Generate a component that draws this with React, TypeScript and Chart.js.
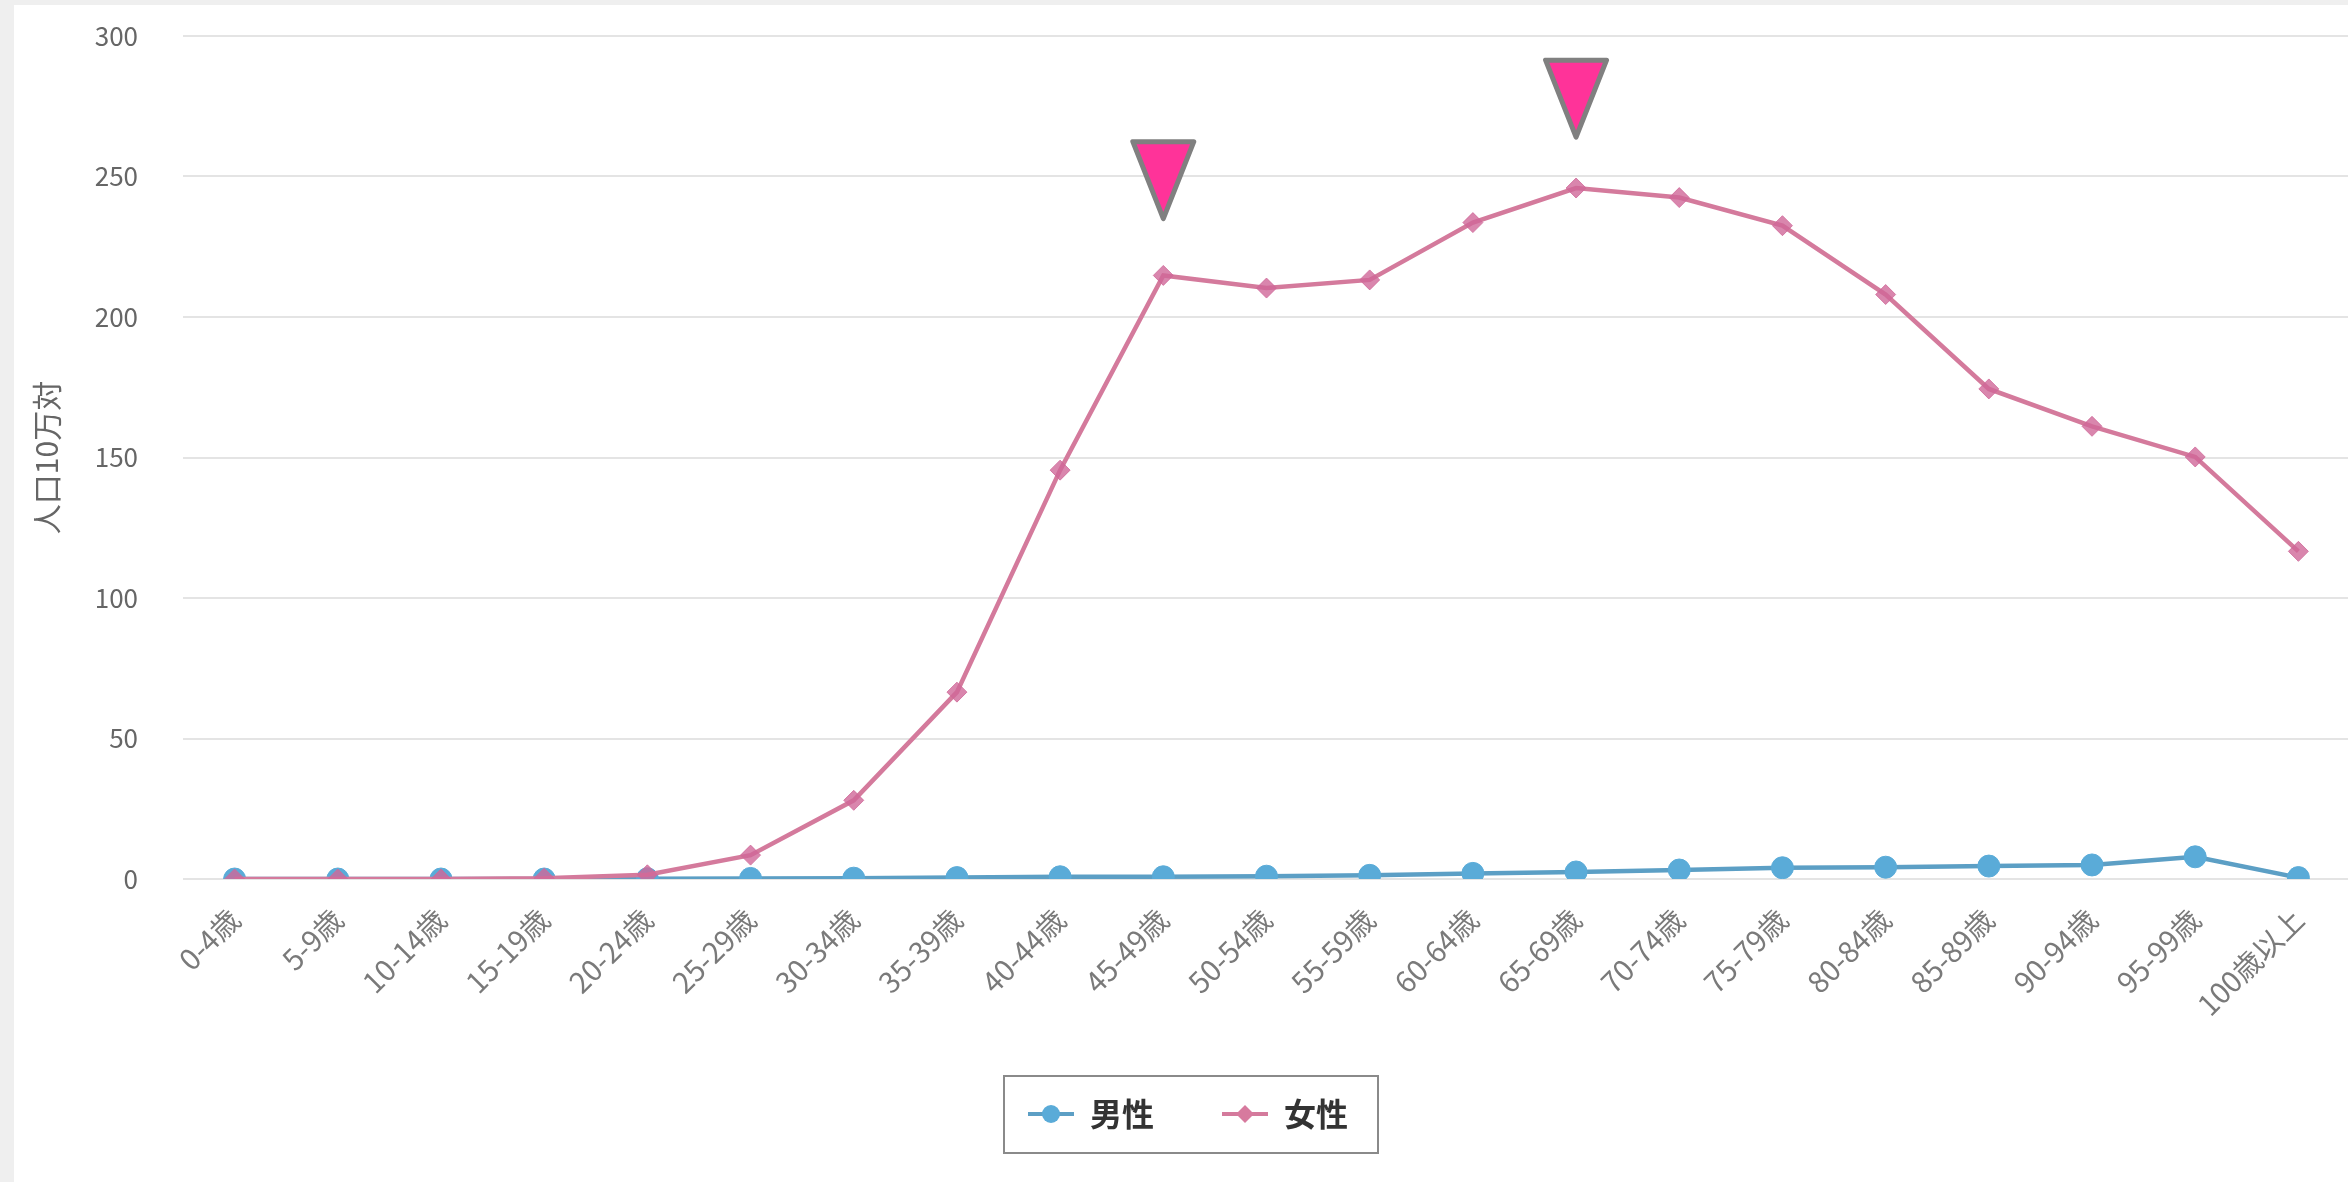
import React, { useEffect, useRef } from 'react';
import Chart from 'chart.js/auto';

// ---- data ----
const categories = ['0-4歳', '5-9歳', '10-14歳', '15-19歳', '20-24歳', '25-29歳', '30-34歳', '35-39歳', '40-44歳', '45-49歳', '50-54歳', '55-59歳', '60-64歳', '65-69歳', '70-74歳', '75-79歳', '80-84歳', '85-89歳', '90-94歳', '95-99歳', '100歳以上'];
const maleValues = [0, 0, 0, 0, 0.1, 0.2, 0.3, 0.5, 0.8, 0.8, 1.0, 1.3, 2.0, 2.5, 3.2, 4.0, 4.2, 4.6, 5.0, 7.9, 0.5];
const femaleValues = [0, 0, 0, 0.3, 1.5, 8.5, 28, 66.5, 145.5, 214.8, 210.3, 213.2, 233.6, 245.9, 242.5, 232.5, 208, 174.4, 161.1, 150.2, 116.6];
const seriesNames = ['男性', '女性'];
const yAxisTitle = '人口10万対';
const yMin = 0;
const yMax = 300;
const yStep = 50;
const markerCategories = ['45-49歳', '65-69歳'];
const markerTipValues = [235, 264];

const FONT = '"Noto Sans CJK JP", "Noto Sans", sans-serif';
const MALE_LINE = '#5c9fc5';
const MALE_POINT = '#5aabd8';
const FEMALE_LINE = '#d47a9c';
const FEMALE_POINT = 'rgba(208,104,152,0.8)';

function makeIcon(lineColor: string, pointColor: string, shape: string) {
  const c = document.createElement('canvas');
  c.width = 46;
  c.height = 22;
  const g = c.getContext('2d')!;
  g.strokeStyle = lineColor;
  g.lineWidth = 4;
  g.beginPath();
  g.moveTo(0, 11);
  g.lineTo(46, 11);
  g.stroke();
  g.fillStyle = pointColor;
  g.beginPath();
  if (shape === 'circle') {
    g.arc(23, 11, 9, 0, Math.PI * 2);
  } else {
    g.moveTo(23, 2);
    g.lineTo(32, 11);
    g.lineTo(23, 20);
    g.lineTo(14, 11);
    g.closePath();
  }
  g.fill();
  return c;
}

const peakMarkers = {
  id: 'peakMarkers',
  afterDatasetsDraw(chart: any) {
    const { ctx } = chart;
    const xs = chart.scales.x;
    const ys = chart.scales.y;
    ctx.save();
    markerCategories.forEach((cat, i) => {
      const px = xs.getPixelForValue(categories.indexOf(cat));
      const tip = ys.getPixelForValue(markerTipValues[i]);
      const h = 77;
      const hw = 30.5;
      ctx.beginPath();
      ctx.moveTo(px - hw, tip - h);
      ctx.lineTo(px + hw, tip - h);
      ctx.lineTo(px, tip);
      ctx.closePath();
      ctx.fillStyle = '#ff3399';
      ctx.fill();
      ctx.lineWidth = 5;
      ctx.lineJoin = 'round';
      ctx.strokeStyle = '#808080';
      ctx.stroke();
    });
    ctx.restore();
  },
};

const legendFrame = {
  id: 'legendFrame',
  afterDraw(chart: any) {
    const boxes = chart.legend && chart.legend.legendHitBoxes;
    if (!boxes || !boxes.length) return;
    const { ctx } = chart;
    const left = Math.min(...boxes.map((b: any) => b.left)) - 24;
    const right = Math.max(...boxes.map((b: any) => b.left + b.width)) + 30;
    const top = boxes[0].top - 22;
    const bottom = boxes[0].top + boxes[0].height + 23;
    ctx.save();
    ctx.strokeStyle = '#8a8a8a';
    ctx.lineWidth = 2;
    ctx.strokeRect(left, top, right - left, bottom - top);
    ctx.restore();
  },
};

export default function App() {
  const ref = useRef<HTMLCanvasElement | null>(null);

  useEffect(() => {
    if (!ref.current) return;
    const icons = [makeIcon(MALE_LINE, MALE_POINT, 'circle'), makeIcon(FEMALE_LINE, '#d77a9e', 'diamond')];
    const chart = new Chart(ref.current, {
      type: 'line',
      data: {
        labels: categories,
        datasets: [
          {
            label: seriesNames[0],
            data: maleValues,
            borderColor: MALE_LINE,
            backgroundColor: MALE_POINT,
            pointBackgroundColor: MALE_POINT,
            pointBorderColor: MALE_POINT,
            pointBorderWidth: 1,
            pointStyle: 'circle',
            pointRadius: 11,
            borderWidth: 4.5,
            tension: 0,
            order: 1,
          },
          {
            label: seriesNames[1],
            data: femaleValues,
            borderColor: FEMALE_LINE,
            backgroundColor: FEMALE_POINT,
            pointBackgroundColor: FEMALE_POINT,
            pointBorderColor: FEMALE_POINT,
            pointBorderWidth: 1,
            pointStyle: 'rectRot',
            pointRadius: 10,
            borderWidth: 4.5,
            tension: 0,
            order: 0,
          },
        ],
      },
      options: {
        responsive: false,
        animation: false,
        layout: { padding: { top: 31, left: 0, right: 0, bottom: 42 } },
        plugins: {
          tooltip: { enabled: false },
          legend: {
            position: 'bottom',
            labels: {
              usePointStyle: true,
              pointStyleWidth: 46,
              padding: 68,
              color: '#333',
              font: { family: FONT, size: 32, weight: 'bold' },
              sort: (a: any, b: any) => a.datasetIndex - b.datasetIndex,
              generateLabels: (c: any) => {
                const items = (Chart as any).defaults.plugins.legend.labels.generateLabels(c);
                return items.map((it: any) => ({ ...it, pointStyle: icons[it.datasetIndex], lineWidth: 0 }));
              },
            },
          },
        },
        scales: {
          x: {
            type: 'category',
            offset: true,
            grid: { display: false, drawTicks: false },
            border: { display: false },
            ticks: {
              autoSkip: false,
              minRotation: 45,
              maxRotation: 45,
              padding: 23,
              color: '#7a7a7a',
              font: { family: FONT, size: 29 },
            },
            afterFit: (s: any) => {
              s.height = 151;
            },
          },
          y: {
            min: yMin,
            max: yMax,
            ticks: {
              stepSize: yStep,
              padding: 10,
              color: '#666',
              font: { family: FONT, size: 26 },
            },
            grid: { color: '#e4e4e4', lineWidth: 2, drawTicks: true, tickLength: 35, tickColor: 'rgba(0,0,0,0)' },
            border: { display: false },
            title: {
              display: true,
              text: yAxisTitle,
              color: '#666',
              font: { family: FONT, size: 30 },
              padding: { top: 15, bottom: 0 },
            },
            afterFit: (s: any) => {
              s.width = 169;
            },
          },
        },
      },
      plugins: [peakMarkers, legendFrame],
    } as any);
    return () => chart.destroy();
  }, []);

  return (
    <div style={{ position: 'absolute', left: 0, top: 0, width: 2348, height: 1182, overflow: 'hidden', background: '#efefef' }}>
      <div style={{ position: 'absolute', left: 14, top: 5, width: 2348, height: 1177, background: '#ffffff' }}>
        <canvas ref={ref} width={2348} height={1177} style={{ display: 'block' }} />
      </div>
    </div>
  );
}
